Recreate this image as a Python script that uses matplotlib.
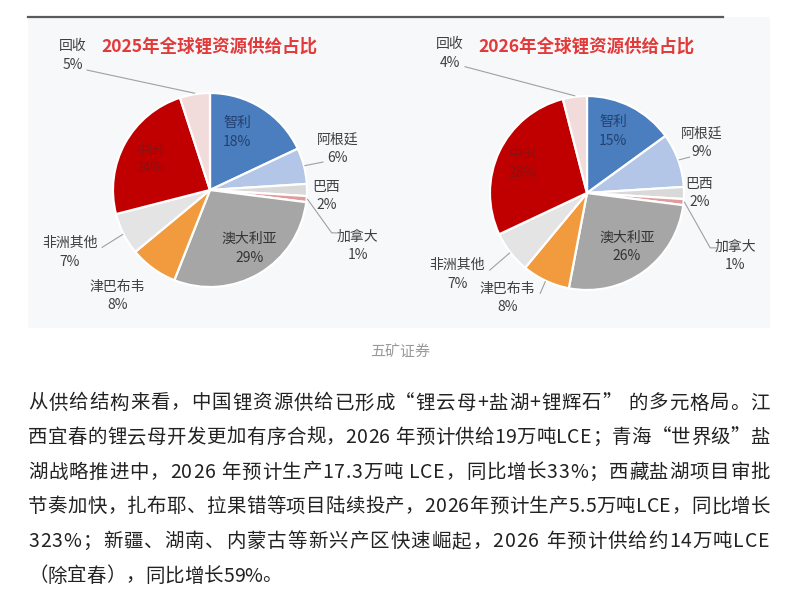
import numpy as np
import matplotlib
matplotlib.use('Agg')
import matplotlib.pyplot as plt
from matplotlib.patches import Rectangle

plt.rcParams['font.family'] = ['Noto Sans CJK SC', 'DejaVu Sans']

# data
names = ['智利', '阿根廷', '巴西', '加拿大', '澳大利亚', '津巴布韦', '非洲其他', '中国', '回收']
share_2025 = [18, 6, 2, 1, 29, 8, 7, 24, 5]
share_2026 = [15, 9, 2, 1, 26, 8, 7, 28, 4]
titles = ['2025年全球锂资源供给占比', '2026年全球锂资源供给占比']
caption = '五矿证券'
para_lines = [
    '从供给结构来看，中国锂资源供给已形成“锂云母+盐湖+锂辉石” 的多元格局。江',
    '西宜春的锂云母开发更加有序合规，2026 年预计供给19万吨LCE；青海“世界级”盐',
    '湖战略推进中，2026 年预计生产17.3万吨 LCE，同比增长33%；西藏盐湖项目审批',
    '节奏加快，扎布耶、拉果错等项目陆续投产，2026年预计生产5.5万吨LCE，同比增长',
    '323%；新疆、湖南、内蒙古等新兴产区快速崛起，2026 年预计供给约14万吨LCE',
    '（除宜春），同比增长59%。',
]

# style
colors = ['#4a7ebf', '#b4c6e7', '#d9d9d9', '#e39a9a', '#a6a6a6',
          '#f29b3e', '#e4e4e4', '#c00000', '#f2dcdb']
explode = [0.01, 0.01, 0.01, 0.01, 0.02, 0.01, 0.01, 0.05, 0.01]
inside = {'智利': '#24406e', '中国': '#8c1010', '澳大利亚': '#333333'}

W, H = 786, 602
fig = plt.figure(figsize=(W / 100, H / 100), dpi=100)
fig.patch.set_facecolor('white')

ax = fig.add_axes([0, 0, 1, 1])
ax.set_axis_off()

# panel + top rule
ax.add_patch(Rectangle((28, H - 328), 742, 311, facecolor='#f7f8fa',
                       edgecolor='none', zorder=0))
ax.plot([28, 723], [H - 17, H - 17], color='#5a5a5a', lw=1.6, zorder=0.5)

# per-pie label layout: (angle tweak deg, radius units)
lab_2025 = [(7.2, 0.655), (3.4, 1.38), (-3, 1.2), (-15.3, 1.63), (3.4, 0.73),
            (-5, 1.45), (-3, 1.58), (1.5, 0.70), (36.6, 1.98)]
lab_2026 = [(4, 0.69), (3.7, 1.29), (0, 1.16), (-17.6, 1.66), (0.5, 0.69),
            (-12, 1.36), (-5.6, 1.58), (0.5, 0.73), (37.3, 2.02)]
# leader lines: list of (angle, r) points after the wedge edge
lead_2025 = {'阿根廷': [(13.9, 1.2)],
             '加拿大': [(-19.4, 1.33), (-18.3, 1.41)],
             '非洲其他': [(-152, 1.26)],
             '回收': [(135.7, 1.77)]}
lead_2026 = {'阿根廷': [(19.3, 1.12)],
             '加拿大': [(-24, 1.39), (-22.8, 1.46)],
             '非洲其他': [(-141.6, 1.28)],
             '津巴布韦': [(-115, 1.14)],
             '回收': [(134, 1.81)]}


def polar(c, r, ang):
    a = np.deg2rad(ang)
    return c[0] + r * np.cos(a), c[1] + r * np.sin(a)


def draw_pie(vals, center, radius, labpos, leads, title, title_xy):
    wedges, _ = ax.pie(vals, colors=colors, startangle=90, counterclock=False,
                       explode=explode, center=center, radius=radius, frame=True,
                       wedgeprops=dict(edgecolor='white', linewidth=1.6, zorder=2))
    for i, w in enumerate(wedges):
        mid = (w.theta1 + w.theta2) / 2
        dang, rr = labpos[i]
        x, y = polar(center, rr * radius, mid + dang)
        col = inside.get(names[i], '#404040')
        ax.text(x, y, f'{names[i]}\n{vals[i]}%', ha='center', va='center',
                fontsize=10, color=col, linespacing=1.42, zorder=3)
        if names[i] in leads:
            pts = [polar(center, radius * (1 + explode[i]), mid)]
            pts += [polar(center, r * radius, a) for a, r in leads[names[i]]]
            xs, ys = zip(*pts)
            ax.plot(xs, ys, color='#a0a0a0', lw=0.8, zorder=3)
    ax.text(title_xy[0], title_xy[1], title, ha='left', va='center',
            fontsize=12.6, fontweight='bold', color='#e23a3a', zorder=3)


draw_pie(share_2025, (210, H - 190), 97, lab_2025, lead_2025, titles[0], (101, H - 47))
draw_pie(share_2026, (587, H - 193), 97, lab_2026, lead_2026, titles[1], (478, H - 47))
ax.set_xlim(0, W)
ax.set_ylim(0, H)
ax.set_aspect('auto')
ax.set_position([0, 0, 1, 1])
ax.set_axis_off()

fig.text(400 / W, 1 - 353 / H, caption, ha='center', va='center',
         fontsize=10.8, color='#9a9a9a')

# justified paragraph
renderer = fig.canvas.get_renderer()
x0, x1 = 28, 770
for k, line in enumerate(para_lines):
    yc = 403 + k * 34.6
    ts = [fig.text(0, 0, ch, fontsize=14, color='#222222', va='center', ha='left')
          for ch in line]
    ws = [t.get_window_extent(renderer).width for t in ts]
    last = k == len(para_lines) - 1
    gap = 0 if last else (x1 - x0 - sum(ws)) / (len(ts) - 1)
    x = x0
    for t, w in zip(ts, ws):
        t.set_position((x / W, 1 - yc / H))
        x += w + gap

fig.savefig('out.png', dpi=100)
